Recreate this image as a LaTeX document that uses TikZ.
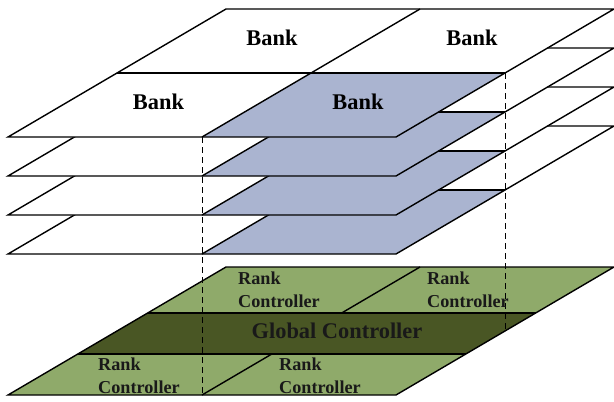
\documentclass[tikz,border=0pt]{standalone}
\usepackage{fontspec}
\setmainfont{Liberation Serif}
\definecolor{bankblue}{RGB}{170,180,208}
\definecolor{rankgreen}{RGB}{143,170,106}
\definecolor{globalgreen}{RGB}{73,86,36}
\definecolor{labeldark}{RGB}{25,25,25}
\tikzset{
  edge/.style={draw=black, line width=1.4pt, line join=miter},
  guide/.style={draw=black, line width=1pt, dash pattern=on 6pt off 4pt},
  banklabel/.style={font=\fontsize{22.4}{26}\selectfont\bfseries, inner sep=0pt, anchor=base},
  globallabel/.style={font=\fontsize{22.4}{26}\selectfont\bfseries, text=labeldark, inner sep=0pt, anchor=base},
  % two-line label, placed by the baseline of its last line
  ranklabel/.style={font=\fontsize{18.2}{23}\selectfont\bfseries, text=labeldark, inner sep=0pt,
    anchor=base west, align=left},
  % one sheared plane: (u,v) with u across the width and v into the depth
  plane/.style={shift={(8,#1)}, x={(388pt,0pt)}, y={(218pt,128pt)}}
}
% a memory layer of four banks, the front right bank shaded
\newcommand\memlayer[1]{%
  \begin{scope}[plane=#1]
    \fill[white] (0,0) -- (1,0) -- (1,1) -- (0,1) -- cycle;
    \fill[bankblue] (0.5,0) -- (1,0) -- (1,0.5) -- (0.5,0.5) -- cycle;
    \draw[edge] (0,0) -- (1,0) -- (1,1) -- (0,1) -- cycle;
    \draw[edge] (0,0.5) -- (1,0.5);
    \draw[edge] (0.5,0) -- (0.5,1);
  \end{scope}}
\begin{document}
\begin{tikzpicture}[x=1pt, y=-1pt]
  \useasboundingbox (0,0) rectangle (614,402);

  % stacked layers, lowest first
  \memlayer{254}
  \memlayer{215}
  \memlayer{176}
  \memlayer{137}
  \begin{scope}[plane=137]
    \coordinate (topfront) at (0.5,0);
    \coordinate (topside) at (1,0.5);
  \end{scope}

  % controller layer
  \begin{scope}[plane=395]
    \fill[rankgreen] (0,0) -- (1,0) -- (1,1) -- (0,1) -- cycle;
    \fill[globalgreen] (0,0.32) -- (1,0.32) -- (1,0.64) -- (0,0.64) -- cycle;
    \draw[edge] (0,0) -- (1,0) -- (1,1) -- (0,1) -- cycle;
    \draw[edge] (0,0.32) -- (1,0.32);
    \draw[edge] (0,0.64) -- (1,0.64);
    \draw[edge] (0.5,0) -- (0.5,0.32);
    \draw[edge] (0.5,0.64) -- (0.5,1);
    \coordinate (ctrlfront) at (0.5,0);
    \coordinate (ctrlside) at (1,0.5);
  \end{scope}

  % projection guides
  \draw[guide] (topfront) -- (ctrlfront);
  \draw[guide] (topside) -- (ctrlside);

  % bank labels
  \node[banklabel] (bankBL) at (272,45) {Bank};
  \node[banklabel] (bankBR) at (472,45) {Bank};
  \node[banklabel] (bankFL) at (158.5,109) {Bank};
  \node[banklabel] (bankFR) at (358,109) {Bank};

  % controller labels
  \node[globallabel] (global) at (337,338) {Global Controller};
  \node[ranklabel] (rankBL) at (238,307.5) {Rank\\Controller};
  \node[ranklabel] (rankBR) at (427,307.5) {Rank\\Controller};
  \node[ranklabel] (rankFL) at (98,393) {Rank\\Controller};
  \node[ranklabel] (rankFR) at (279,393) {Rank\\Controller};
\end{tikzpicture}
\end{document}
